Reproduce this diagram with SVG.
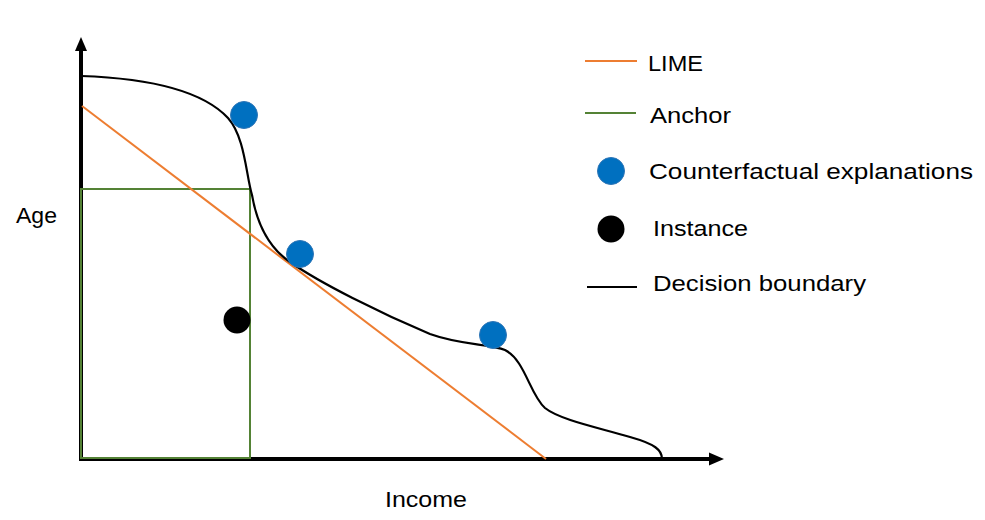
<svg xmlns="http://www.w3.org/2000/svg" width="985" height="520" viewBox="0 0 985 520">
  <defs>
    <style>
      .txt { font-family: "Liberation Sans", Arial, sans-serif; font-size: 22px; fill: #000; }
      .axis { stroke: #000; stroke-width: 4; fill: none; }
      .lime { stroke: #ED7D31; stroke-width: 2; fill: none; }
      .anchor { stroke: #548235; stroke-width: 2; fill: none; }
      .boundary { stroke: #000; stroke-width: 2.2; fill: none; }
      .cf { fill: #0070C0; stroke: #2E75B6; stroke-width: 1; }
      .inst { fill: #000; }
    </style>
  </defs>
  <rect width="985" height="520" fill="#fff"/>

  <g id="connectors">
    <!-- axes -->
    <g id="axes">
      <line class="axis" x1="81" y1="461" x2="81" y2="49"/>
      <polygon points="81,37 75,51 87,51" fill="#000"/>
      <line class="axis" x1="79" y1="459" x2="711" y2="459"/>
      <polygon points="724,459 709,452.5 709,465.5" fill="#000"/>
    </g>
    <!-- anchor rectangle -->
    <rect id="anchor-box" class="anchor" x="81" y="189" width="169" height="269"/>
    <!-- LIME line -->
    <line id="lime-line" class="lime" x1="82" y1="106" x2="546" y2="459"/>
    <!-- decision boundary -->
    <path id="decision-boundary" class="boundary" d="M81,76 C140,78 200,88 228,118 C245,137 246,175 252,195 C256,218 265,245 290,262 C320,283 380,313 430,334 C460,345 490,344 505,350 C525,360 530,395 545,408 C560,420 600,428 630,437 C655,444 662,450 662,459"/>
  </g>

  <g id="cf1"><circle class="cf" cx="244" cy="115" r="13.5"/></g>
  <g id="cf2"><circle class="cf" cx="300" cy="254" r="13.5"/></g>
  <g id="cf3"><circle class="cf" cx="493" cy="335" r="13.5"/></g>
  <g id="instance"><circle class="inst" cx="237" cy="320" r="13.5"/></g>

  <g id="axis-labels">
    <text class="txt" x="16" y="223" textLength="41" lengthAdjust="spacingAndGlyphs">Age</text>
    <text class="txt" x="385" y="507" textLength="82" lengthAdjust="spacingAndGlyphs">Income</text>
  </g>

  <g id="legend">
    <g id="legend-lime">
      <line class="lime" x1="585" y1="61" x2="637" y2="61"/>
      <text class="txt" x="648" y="71" textLength="55" lengthAdjust="spacingAndGlyphs">LIME</text>
    </g>
    <g id="legend-anchor">
      <line class="anchor" x1="585" y1="113" x2="636" y2="113"/>
      <text class="txt" x="650" y="123" textLength="81" lengthAdjust="spacingAndGlyphs">Anchor</text>
    </g>
    <g id="legend-cf">
      <circle class="cf" cx="611" cy="171" r="13.5"/>
      <text class="txt" x="649" y="179" textLength="324" lengthAdjust="spacingAndGlyphs">Counterfactual explanations</text>
    </g>
    <g id="legend-instance">
      <circle class="inst" cx="611" cy="229" r="13.5"/>
      <text class="txt" x="653" y="236" textLength="95" lengthAdjust="spacingAndGlyphs">Instance</text>
    </g>
    <g id="legend-boundary">
      <line class="boundary" x1="587" y1="287" x2="637" y2="287"/>
      <text class="txt" x="653" y="291" textLength="213" lengthAdjust="spacingAndGlyphs">Decision boundary</text>
    </g>
  </g>
</svg>
